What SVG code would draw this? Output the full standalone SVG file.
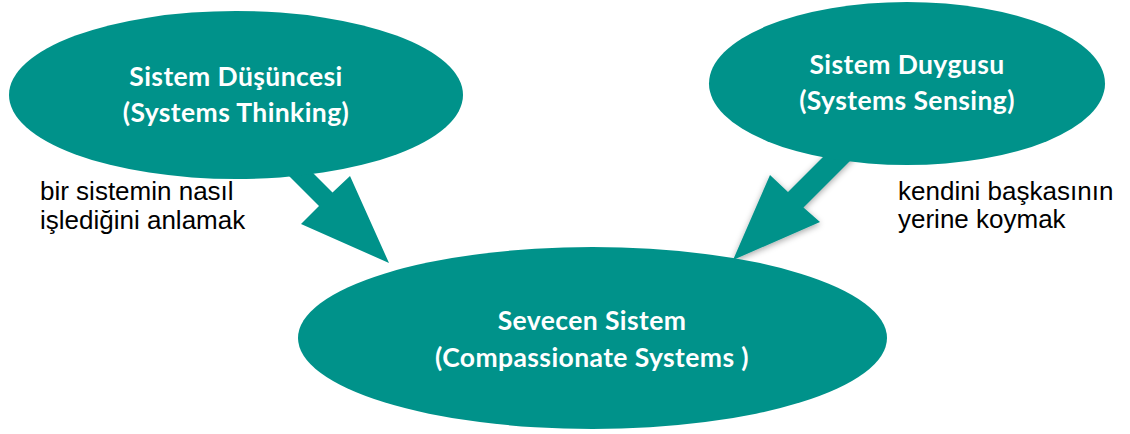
<svg xmlns="http://www.w3.org/2000/svg" width="1130" height="434" viewBox="0 0 1130 434">
  <style>
    .node { fill: #00928A; }
    .arrow { fill: #00928A; }
    .title { font-family: Lato, "Open Sans", sans-serif; font-weight: 700; font-size: 26.5px; letter-spacing: 0.4px; fill: #ffffff; text-anchor: middle; }
    .note { font-family: "Liberation Sans", Arial, sans-serif; font-size: 26px; fill: #000000; }
  </style>
  <defs>
    <filter id="shadow" x="-30%" y="-30%" width="160%" height="160%">
      <feDropShadow dx="0" dy="2" stdDeviation="3" flood-color="#000" flood-opacity="0.35"/>
    </filter>
  </defs>
  <rect width="1130" height="434" fill="#ffffff"/>
  <g id="connectors">
    <polygon class="arrow" points="271,158 319,206 301,224 389,263 350,176 332.5,192.5 296,156"/>
    <polygon class="arrow" filter="url(#shadow)" points="830,150 788,192 770,175 733,260 820,222 803.5,207.5 861,150"/>
  </g>
  <g id="node-thinking">
    <ellipse class="node" cx="236" cy="95" rx="227" ry="84"/>
    <text class="title" x="236" y="86">Sistem Düşüncesi</text>
    <text class="title" x="236" y="122">(Systems Thinking)</text>
  </g>
  <g id="node-sensing">
    <ellipse class="node" cx="907" cy="83.5" rx="198" ry="81.5"/>
    <text class="title" x="907" y="74">Sistem Duygusu</text>
    <text class="title" x="907" y="110">(Systems Sensing)</text>
  </g>
  <g id="node-compassionate">
    <ellipse class="node" cx="592.5" cy="338" rx="294.5" ry="91"/>
    <text class="title" x="592" y="330">Sevecen Sistem</text>
    <text class="title" x="592" y="367">(Compassionate Systems )</text>
  </g>
  <g id="labels">
    <text class="note" x="40" y="200">bir sistemin nasıl</text>
    <text class="note" x="40" y="229">işlediğini anlamak</text>
    <text class="note" x="898" y="200">kendini başkasının</text>
    <text class="note" x="898" y="228">yerine koymak</text>
  </g>
</svg>
